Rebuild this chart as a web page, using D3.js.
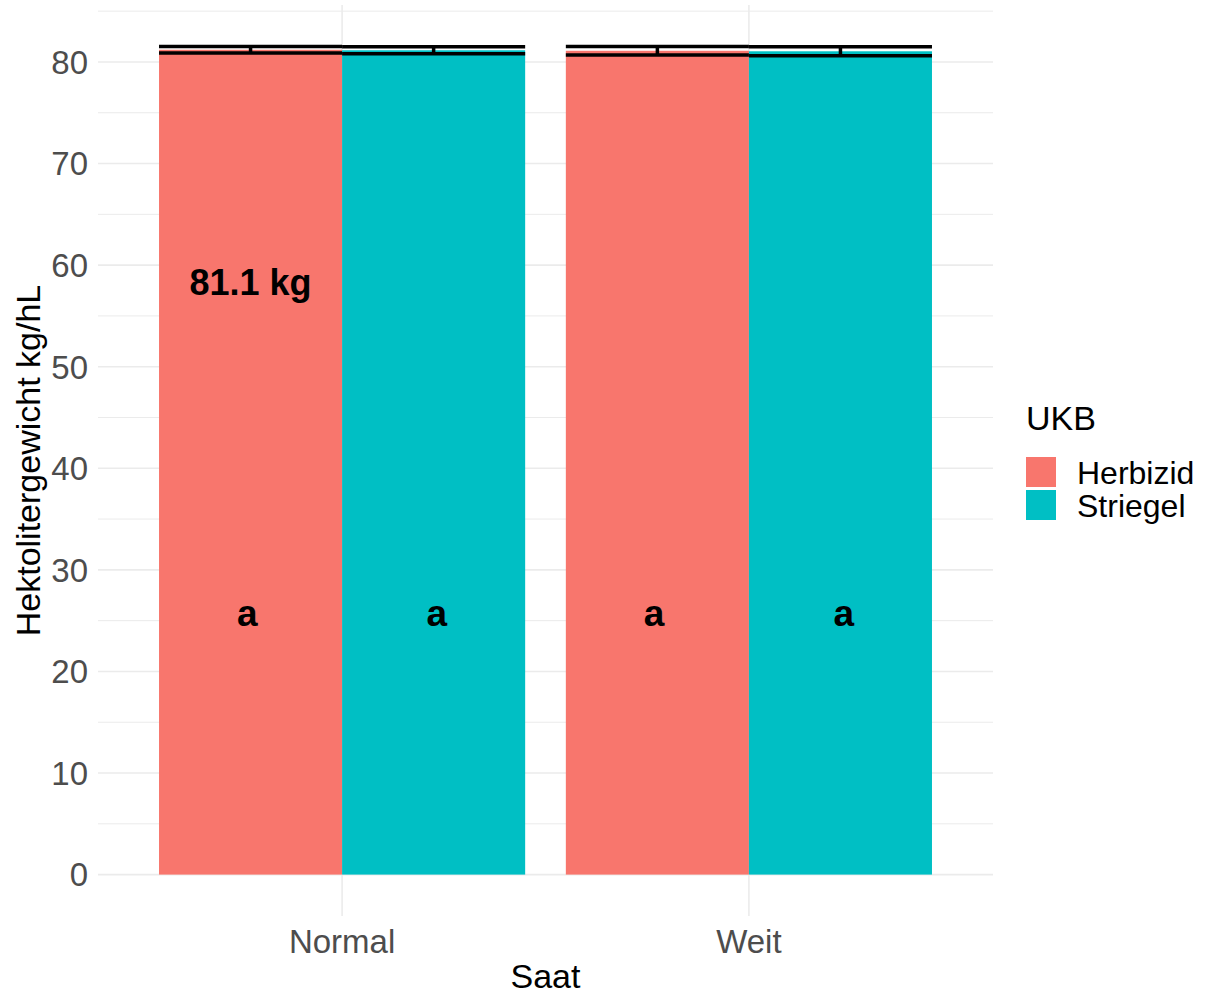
<!DOCTYPE html>
<html>
<head>
<meta charset="utf-8">
<script src="https://cdn.jsdelivr.net/npm/d3@7"></script>
<style>
  body { margin: 0; background: #ffffff; }
  svg { display: block; font-family: "Liberation Sans", Arial, sans-serif; }
</style>
</head>
<body>
<div id="chart"></div>
<script>
// data
let saat = ["Normal", "Weit"];
let ukb = ["Herbizid", "Striegel"];
let meanNormal = [81.2, 81.15];
let meanWeit = [81.1, 81.05];
let seNormal = [0.33, 0.35];
let seWeit = [0.42, 0.45];
let letters = ["a", "a", "a", "a"];
let yTicks = [0, 10, 20, 30, 40, 50, 60, 70, 80];
let colors = ["#F8766D", "#00BFC4"];
let annotation = "81.1 kg";
let annotationY = 58.3;
let letterY = 25.7;

function drawChart() {

  let width = 1208;
  let height = 994;
  let left = 98, right = 993, top = 5, bottom = 916;

  let rows = [];
  saat.forEach(function(s, i) {
    let means = i === 0 ? meanNormal : meanWeit;
    let ses = i === 0 ? seNormal : seWeit;
    ukb.forEach(function(u, j) {
      rows.push({saat: s, ukb: u, mean: means[j], se: ses[j], letter: letters[i*2 + j]});
    });
  });

  let svg = d3.select("#chart").append("svg")
  .attr("width", width)
  .attr("height", height);

  // ggplot style expansion: 5% on continuous, 0.6 on discrete
  let yMax = d3.max(rows, function(d) { return d.mean + d.se; });
  let pad = yMax * 0.05;
  let y = d3.scaleLinear()
  .domain([0 - pad, yMax + pad])
  .range([bottom, top]);

  let x = d3.scalePoint()
  .domain(saat)
  .range([left, right])
  .padding(0.6);

  let step = x.step();
  let xSub = d3.scaleBand()
  .domain(ukb)
  .range([-0.45*step, 0.45*step]);

  // grid
  let minor = [];
  for (let v = 5; v < yMax + pad; v += 10) minor.push(v);

  svg.append("g").selectAll("line")
  .data(minor)
  .join("line")
  .attr("x1", left).attr("x2", right)
  .attr("y1", function(d) { return y(d); })
  .attr("y2", function(d) { return y(d); })
  .attr("stroke", "#EBEBEB")
  .attr("stroke-width", 1);

  svg.append("g").selectAll("line")
  .data(yTicks)
  .join("line")
  .attr("x1", left).attr("x2", right)
  .attr("y1", function(d) { return y(d); })
  .attr("y2", function(d) { return y(d); })
  .attr("stroke", "#EBEBEB")
  .attr("stroke-width", 1.6);

  svg.append("g").selectAll("line")
  .data(saat)
  .join("line")
  .attr("x1", function(d) { return x(d); })
  .attr("x2", function(d) { return x(d); })
  .attr("y1", top).attr("y2", bottom)
  .attr("stroke", "#EBEBEB")
  .attr("stroke-width", 1.6);

  // bars
  svg.append("g").selectAll("rect")
  .data(rows)
  .join("rect")
  .attr("x", function(d) { return x(d.saat) + xSub(d.ukb); })
  .attr("width", xSub.bandwidth())
  .attr("y", function(d) { return y(d.mean); })
  .attr("height", function(d) { return y(0) - y(d.mean); })
  .attr("fill", function(d) { return colors[ukb.indexOf(d.ukb)]; });

  // error bars
  let eb = svg.append("g")
  .attr("stroke", "#000000")
  .attr("stroke-width", 3.5);

  rows.forEach(function(d) {
    let x0 = x(d.saat) + xSub(d.ukb);
    let x1 = x0 + xSub.bandwidth();
    let cx = x0 + xSub.bandwidth()/2;
    eb.append("line")
    .attr("x1", x0).attr("x2", x1)
    .attr("y1", y(d.mean + d.se)).attr("y2", y(d.mean + d.se));
    eb.append("line")
    .attr("x1", x0).attr("x2", x1)
    .attr("y1", y(d.mean - d.se)).attr("y2", y(d.mean - d.se));
    eb.append("line")
    .attr("x1", cx).attr("x2", cx)
    .attr("y1", y(d.mean + d.se)).attr("y2", y(d.mean - d.se));
  });

  // letters
  let letterOffset = 0.233*step;
  svg.append("g").selectAll("text")
  .data(rows)
  .join("text")
  .attr("x", function(d) { return x(d.saat) + (d.ukb === ukb[0] ? -letterOffset : letterOffset); })
  .attr("y", y(letterY))
  .attr("dy", "0.35em")
  .attr("text-anchor", "middle")
  .attr("font-size", 37)
  .attr("font-weight", "bold")
  .attr("fill", "#000000")
  .text(function(d) { return d.letter; });

  svg.append("text")
  .attr("x", x(saat[0]) + xSub(ukb[0]) + xSub.bandwidth()/2)
  .attr("y", y(annotationY))
  .attr("dy", "0.35em")
  .attr("text-anchor", "middle")
  .attr("font-size", 36)
  .attr("font-weight", "bold")
  .attr("fill", "#000000")
  .text(annotation);

  // axes labels
  svg.append("g").selectAll("text")
  .data(yTicks)
  .join("text")
  .attr("x", 88)
  .attr("y", function(d) { return y(d); })
  .attr("dy", "0.36em")
  .attr("text-anchor", "end")
  .attr("font-size", 33)
  .attr("fill", "#4D4D4D")
  .text(function(d) { return d; });

  svg.append("g").selectAll("text")
  .data(saat)
  .join("text")
  .attr("x", function(d) { return x(d); })
  .attr("y", 953)
  .attr("text-anchor", "middle")
  .attr("font-size", 33)
  .attr("fill", "#4D4D4D")
  .text(function(d) { return d; });

  svg.append("text")
  .attr("x", (left + right)/2)
  .attr("y", 988)
  .attr("text-anchor", "middle")
  .attr("font-size", 34)
  .attr("fill", "#000000")
  .text("Saat");

  svg.append("text")
  .attr("transform", "translate(40," + (top + bottom)/2 + ") rotate(-90)")
  .attr("text-anchor", "middle")
  .attr("font-size", 34)
  .attr("fill", "#000000")
  .text("Hektolitergewicht kg/hL");

  // legend
  let legend = svg.append("g");

  legend.append("text")
  .attr("x", 1026)
  .attr("y", 430)
  .attr("font-size", 34)
  .attr("fill", "#000000")
  .text("UKB");

  ukb.forEach(function(u, i) {
    legend.append("rect")
    .attr("x", 1026)
    .attr("y", 457 + i*33)
    .attr("width", 30)
    .attr("height", 30)
    .attr("fill", colors[i]);
    legend.append("text")
    .attr("x", 1077)
    .attr("y", 484 + i*33)
    .attr("font-size", 32)
    .attr("fill", "#000000")
    .text(u);
  });

}

drawChart();
</script>
</body>
</html>
